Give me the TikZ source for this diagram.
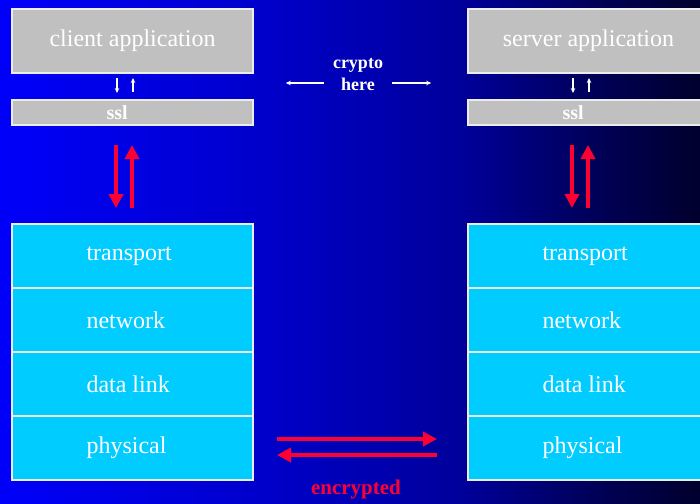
\documentclass[tikz,border=0pt]{standalone}
\usepackage{fontspec}
\setmainfont{Liberation Serif}
\usetikzlibrary{positioning,arrows.meta,calc}

\definecolor{lyrblue}{RGB}{0,204,255}
\definecolor{appgray}{RGB}{192,192,192}
\definecolor{arrred}{RGB}{255,0,51}
\definecolor{bgA}{RGB}{0,0,250}
\definecolor{bgB}{RGB}{0,0,205}
\definecolor{bgC}{RGB}{0,0,155}
\definecolor{bgD}{RGB}{0,0,85}
\definecolor{bgE}{RGB}{0,0,45}
\pgfdeclarehorizontalshading{bgshade}{100bp}{color(0bp)=(bgA); color(25bp)=(bgA);
  color(42.9bp)=(bgB); color(57.9bp)=(bgC); color(67.9bp)=(bgD); color(75bp)=(bgE); color(100bp)=(bgE)}

\begin{document}
\begin{tikzpicture}[x=1pt,y=-1pt, font=\fontsize{24}{28}\selectfont,
  app/.style = {draw=white!85!gray, line width=1.2pt, fill=appgray, text=white, minimum width=241pt, minimum height=64pt, inner sep=0pt, outer sep=0pt},
  ssl/.style = {app, minimum height=25pt, text width=52pt, align=flush left, font=\fontsize{20}{22}\selectfont\bfseries},
  lyr/.style = {app, fill=lyrblue, text width=92pt, align=flush left},
  wire/.style = {draw=white, line width=1.1pt, -{Stealth[length=5pt,width=4.5pt]}},
  fat/.style = {draw=arrred, line width=3.5pt, -{Triangle[length=14pt,width=14pt]}}]

  \useasboundingbox (0,0) rectangle (700,503);
  \clip (0,0) rectangle (700,503);
  \shade[shading=bgshade] (0,0) rectangle (700,503);

  % client side
  \node[app] (capp) at (132.5,41) {client application};
  \node[ssl] (cssl) [below=27pt of capp] {ssl};
  \node[lyr] (ctp) [below=99pt of cssl] {transport};
  \node[lyr] (cnw) [below=0pt of ctp] {network};
  \node[lyr] (cdl) [below=0pt of cnw] {data link};
  \node[lyr] (cph) [below=0pt of cdl] {physical};

  % server side
  \node[app] (sapp) at (588.5,41) {server application};
  \node[ssl] (sssl) [below=27pt of sapp] {ssl};
  \node[lyr] (stp) [below=99pt of sssl] {transport};
  \node[lyr] (snw) [below=0pt of stp] {network};
  \node[lyr] (sdl) [below=0pt of snw] {data link};
  \node[lyr] (sph) [below=0pt of sdl] {physical};

  \node[text=white, align=center, inner sep=2pt, font=\fontsize{18}{22}\selectfont\bfseries] (crypto) at (358,75) {crypto\\here};
  \node[text=arrred, font=\fontsize{21}{24}\selectfont\bfseries] (enc) at (356,489) {encrypted};

  \draw[wire] ([xshift=-15.5pt,yshift=-5pt]capp.south) -- ([xshift=-15.5pt,yshift=7pt]cssl.north);
  \draw[wire] ([xshift=0.5pt,yshift=8pt]cssl.north) -- ([xshift=0.5pt,yshift=-5pt]capp.south);
  \draw[wire] ([xshift=-15.5pt,yshift=-5pt]sapp.south) -- ([xshift=-15.5pt,yshift=7pt]sssl.north);
  \draw[wire] ([xshift=0.5pt,yshift=8pt]sssl.north) -- ([xshift=0.5pt,yshift=-5pt]sapp.south);

  \draw[wire] ([xshift=-7pt,yshift=-8pt]crypto.west) -- ++(-38,0);
  \draw[wire] ([xshift=7pt,yshift=-8pt]crypto.east) -- ++(39,0);

  \draw[fat] ([xshift=-16.5pt,yshift=-20pt]cssl.south) -- ([xshift=-16.5pt,yshift=16pt]ctp.north);
  \draw[fat] ([xshift=-0.5pt,yshift=16pt]ctp.north) -- ([xshift=-0.5pt,yshift=-20pt]cssl.south);
  \draw[fat] ([xshift=-16.5pt,yshift=-20pt]sssl.south) -- ([xshift=-16.5pt,yshift=16pt]stp.north);
  \draw[fat] ([xshift=-0.5pt,yshift=16pt]stp.north) -- ([xshift=-0.5pt,yshift=-20pt]sssl.south);

  \draw[fat, shorten <=24pt, shorten >=31pt] ([yshift=9pt]cph.east) -- ([yshift=9pt]sph.west);
  \draw[fat, shorten <=31pt, shorten >=24pt] ([yshift=-7pt]sph.west) -- ([yshift=-7pt]cph.east);

\end{tikzpicture}
\end{document}
